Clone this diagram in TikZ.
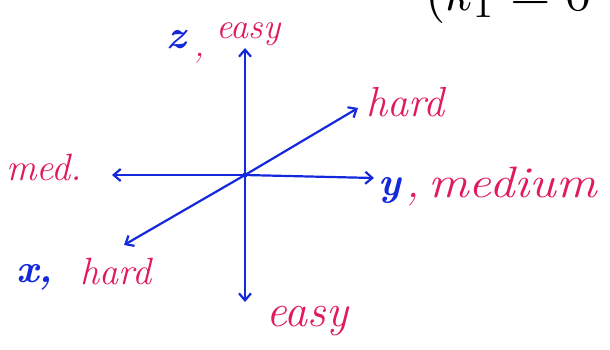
\documentclass[tikz,border=0pt]{standalone}
\usetikzlibrary{arrows.meta}
\definecolor{penblue}{RGB}{20,40,220}
\definecolor{penred}{RGB}{225,25,95}
\begin{document}
\begin{tikzpicture}[x=1pt,y=-1pt,
  axis/.style={draw=penblue,line width=2.2pt,-{Straight Barb[length=7pt,width=12pt,line width=2.2pt]}},
  blab/.style={text=penblue,font=\fontsize{40}{40}\selectfont\bfseries\itshape,inner sep=0pt},
  rlab/.style={text=penred,inner sep=0pt}]
\useasboundingbox[fill=white] (0,0) rectangle (610,349);
\coordinate (O) at (245,175);
\coordinate (zt) at (245,48);
\coordinate (zb) at (245,302);
\coordinate (yl) at (112,175);
\coordinate (yr) at (374,178);
\coordinate (xd) at (124,245);
\coordinate (xu) at (358,108);
\draw[axis] (O) -- (zt);
\draw[axis] (O) -- (zb);
\draw[axis] (O) -- (yl);
\draw[axis] (O) -- (yr);
\draw[axis] (O) -- (xd);
\draw[axis] (O) -- (xu);
\fill[penblue] (O) circle (2.5pt);
\node[blab,anchor=base west] (zl) at (166,48) {z};
\node[rlab,anchor=base west,font=\fontsize{34}{34}\selectfont\itshape] (zc) at (194,56) {,};
\node[rlab,anchor=base west,font=\fontsize{36}{36}\selectfont\itshape] (ze) at (216,38) {easy};
\node[rlab,anchor=base west,font=\fontsize{42}{42}\selectfont\itshape] (xh) at (366,116) {hard};
\node[rlab,anchor=base west,font=\fontsize{38}{38}\selectfont\itshape] (md) at (6,180) {med.};
\node[blab,anchor=base west] (yy) at (378,195) {y};
\node[rlab,anchor=base west,font=\fontsize{44}{44}\selectfont\itshape] (yc) at (406,197) {,};
\node[rlab,anchor=base west,xscale=1.15,font=\fontsize{44}{44}\selectfont\itshape] (ym) at (428,197) {medium};
\node[blab,anchor=base west] (xx) at (16,282) {x,};
\node[rlab,anchor=base west,font=\fontsize{38}{38}\selectfont\itshape] (xhd) at (80,284) {hard};
\node[rlab,anchor=base west,font=\fontsize{46}{46}\selectfont\itshape] (ez) at (266,326) {easy};
\begin{scope}
\clip (0,0) rectangle (610,349);
\node[anchor=base west,inner sep=0pt] (eq) at (425,10) {\scalebox{5.2}{$(k_1 = 0$}};
\end{scope}
\end{tikzpicture}
\end{document}
